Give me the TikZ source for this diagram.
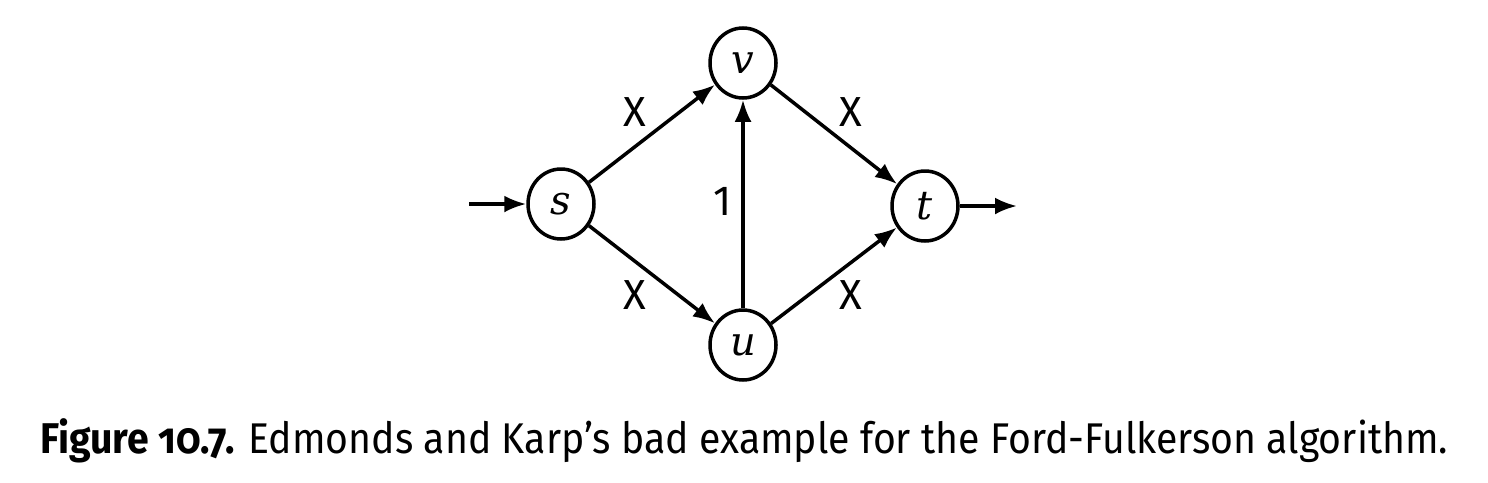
\documentclass[tikz,border=0pt]{standalone}
\usepackage{fontspec}
\setmainfont{Fira Sans}
\newfontfamily\vxfont{DejaVu Serif}
\usetikzlibrary{arrows.meta,shapes.geometric}
\begin{document}
\begin{tikzpicture}[x=1pt,y=-1pt,
  vert/.style={draw,ellipse,line width=3.5pt,minimum width=66pt,minimum height=70pt,inner sep=0pt,font=\vxfont\itshape\fontsize{40}{40}\selectfont},
  edge/.style={line width=3.5pt,-{Latex[length=22pt,width=17pt]}},
  lab/.style={font=\fontsize{42}{42}\selectfont,inner sep=0pt}]
\useasboundingbox (0,0) rectangle (1488,482);
\node[vert] (s) at (561,204) {s};
\node[vert] (v) at (743,63) {v};
\node[vert] (u) at (743,345) {u};
\node[vert] (t) at (925,206) {t};
\coordinate (in) at (469,204);
\coordinate (out) at (1017,206);
\draw[edge] (in) -- (s);
\draw[edge] (t) -- (out);
\draw[edge] (s) -- (v);
\draw[edge] (s) -- (u);
\draw[edge] (v) -- (t);
\draw[edge] (u) -- (t);
\draw[edge] (u) -- (v);
\node[lab] (l1) at (635,112) {X};
\node[lab] (l2) at (851,112) {X};
\node[lab] (l3) at (635,295) {X};
\node[lab] (l4) at (851,295) {X};
\node[lab] (l5) at (723,201) {1};
\node[anchor=base west,inner sep=0pt,font=\fontsize{43}{43}\selectfont] (cap) at (40,453)
  {\resizebox{1408pt}{\height}{{\bfseries Figure {\addfontfeatures{Numbers=OldStyle}10.7.}} Edmonds and Karp’s bad example for the Ford-Fulkerson algorithm.}};
\end{tikzpicture}
\end{document}
